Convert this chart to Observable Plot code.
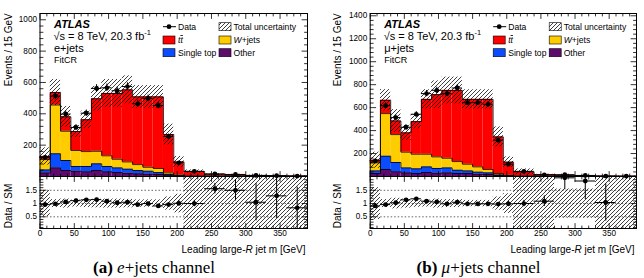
<!DOCTYPE html>
<html>
<head>
<meta charset="utf-8">
<script src="https://cdn.jsdelivr.net/npm/d3@7"></script>
<script src="https://cdn.jsdelivr.net/npm/@observablehq/plot@0.6"></script>
<style>
html,body{margin:0;padding:0;background:#fff;}
#fig{position:relative;width:644px;height:278px;overflow:hidden;background:#fff;}
#fig > div{position:absolute;}
#fig svg{display:block;}
</style>
</head>
<body>
<svg width="1" height="1" style="position:absolute;left:-10px;top:-10px">
  <defs>
    <pattern id="hatch" patternUnits="userSpaceOnUse" width="4" height="4">
      <path d="M-1,1 l2,-2 M0,4 l4,-4 M3,5 l2,-2" stroke="#000" stroke-width="0.75" fill="none"/>
    </pattern>
  </defs>
</svg>
<div id="fig"></div>
<script>
// ---------------- data ----------------
const binEdges = [0,15,30,45,60,75,90,105,120,135,150,165,180,195,210,240,270,300,330,360,390];
const processes = ["Other", "Single top", "W+jets", "ttbar"];
const processColors = ["#5e0b6e", "#0a4cff", "#ffcc00", "#ff0000"];

// e+jets (events / 15 GeV)
const eOther     = [23, 55, 38, 34, 30, 38, 30, 25, 21, 17, 15, 13, 8, 3, 1, 0.5, 0.3, 0.2, 0.2, 0.1];
const eSingleTop = [19, 90, 64, 30, 34, 43, 34, 30, 26, 21, 19, 12, 5, 2, 1, 0.5, 0.3, 0.2, 0.1, 0.1];
const eWjets     = [66, 311, 187, 102, 95, 80, 68, 55, 46, 38, 25, 26, 10, 4, 1.5, 1, 0.6, 0.4, 0.3, 0.2];
const eTtbar     = [20, 80, 92, 121, 203, 335, 398, 420, 460, 432, 449, 457, 245, 84, 28.5, 9, 7.5, 5.2, 3.4, 2.6];
const eData      = [122, 513, 398, 313, 404, 562, 566, 547, 574, 464, 498, 453, 255, 87, 33, 17, 13, 7, 5, 2.5];
const eDataErr   = [11, 23, 20, 18, 20, 24, 24, 23, 24, 22, 22, 21, 16, 9, 4, 3, 2.5, 2, 1.5, 1];
const eUnc       = [55, 83, 66, 38, 55, 79, 89, 89, 89, 72, 72, 72, 66, 35, 10, 5, 4, 3, 2, 2];
const eRatio     = [0.96, 0.99, 1.06, 1.11, 1.14, 1.15, 1.09, 1.03, 1.05, 0.96, 1.0, 0.91, 0.96, 1.01, 1.0, 1.56, 1.5, 1.05, 1.29, 0.84];
const eRatioErr  = [0.09, 0.05, 0.05, 0.06, 0.05, 0.05, 0.04, 0.04, 0.04, 0.05, 0.05, 0.05, 0.06, 0.1, 0.12, 0.2, 0.4, 0.7, 0.85, 0.78];
const eBand      = [0.5, 0.15, 0.17, 0.13, 0.15, 0.16, 0.17, 0.17, 0.16, 0.14, 0.14, 0.14, 0.25, 0.35, 1.2, 1.2, 1.2, 1.2, 1.2, 1.2];

// mu+jets (events / 15 GeV)
const mOther     = [26, 61, 41, 32, 26, 35, 29, 32, 26, 26, 20, 17, 9, 4, 1.5, 0.6, 0.4, 0.3, 0.2, 0.1];
const mSingleTop = [23, 116, 81, 43, 41, 49, 41, 43, 29, 23, 18, 15, 5, 2, 1, 0.6, 0.4, 0.2, 0.1, 0.1];
const mWjets     = [70, 371, 243, 137, 127, 110, 101, 84, 75, 58, 46, 29, 12, 4, 1.5, 0.8, 0.6, 0.5, 0.3, 0.2];
const mTtbar     = [23, 116, 119, 168, 284, 478, 542, 591, 620, 565, 588, 611, 319, 115, 37, 12, 6.6, 4, 2.9, 2.1];
const mData      = [136, 617, 513, 429, 542, 722, 751, 722, 771, 643, 643, 629, 316, 107, 45, 15, 16, 9, 3.5, 3];
const mDataErr   = [12, 25, 23, 21, 23, 27, 27, 27, 28, 25, 25, 25, 18, 10, 5, 3, 3, 2, 1.5, 1.2];
const mUnc       = [70, 93, 99, 67, 64, 84, 120, 116, 116, 84, 84, 84, 87, 46, 25, 5, 4, 3, 2, 2];
const mRatio     = [0.91, 0.96, 1.03, 1.14, 1.18, 1.09, 1.06, 0.99, 1.05, 0.99, 0.99, 0.99, 0.98, 0.99, 1.0, 1.09, 1.97, 1.85, 1.04, null];
const mRatioErr  = [0.08, 0.04, 0.04, 0.05, 0.05, 0.04, 0.04, 0.04, 0.04, 0.04, 0.04, 0.04, 0.06, 0.1, 0.12, 0.2, 0.45, 0.7, 0.7, null];
const mBand      = [0.6, 0.15, 0.2, 0.17, 0.14, 0.13, 0.17, 0.15, 0.15, 0.12, 0.12, 0.12, 0.25, 0.37, 1.2, 1.2, 0.55, 0.55, 1.2, 1.2];

// axis ticks
const xMajorTicks = [0, 50, 100, 150, 200, 250, 300, 350];
const eYLabels = [200, 400, 600, 800, 1000];
const mYLabels = [200, 400, 600, 800, 1000, 1200, 1400];
const ratioYLabels = [0.5, 1, 1.5];

// ---------------- drawing ----------------
const FONT = "'Liberation Sans', Arial, Helvetica, sans-serif";
const fig = document.getElementById("fig");
const tickShape = {draw(ctx, l) { ctx.moveTo(0, 0); ctx.lineTo(0, -l); }};

function tickMarks(axis, vals, len) {
  const common = {length: len, anchor: "start", shape: tickShape, stroke: "#000", strokeWidth: 0.8};
  if (axis === "y") return [
    Plot.vector(vals, {...common, y: d => d, frameAnchor: "left", rotate: 90}),
    Plot.vector(vals, {...common, y: d => d, frameAnchor: "right", rotate: -90})
  ];
  return [
    Plot.vector(vals, {...common, x: d => d, frameAnchor: "bottom", rotate: 0}),
    Plot.vector(vals, {...common, x: d => d, frameAnchor: "top", rotate: 180})
  ];
}

function place(el, left, top, w) {
  const d = document.createElement("div");
  d.style.left = left + "px"; d.style.top = top + "px"; d.style.width = w + "px";
  d.appendChild(el); fig.appendChild(d);
}

const panels = [
  {ox: 0, fl: 39.5, fr: 307, ymax: 1040, yLabels: eYLabels,
   comps: [eOther, eSingleTop, eWjets, eTtbar], data: eData, dataErr: eDataErr, unc: eUnc,
   ratio: eRatio, ratioErr: eRatioErr, band: eBand,
   channel: "e+jets", caption: ["(a)", "e", "+jets channel"], axisTitleX: 8.7, capX: 154},
  {ox: 322, fl: 369.7, fr: 636, ymax: 1420, yLabels: mYLabels,
   comps: [mOther, mSingleTop, mWjets, mTtbar], data: mData, dataErr: mDataErr, unc: mUnc,
   ratio: mRatio, ratioErr: mRatioErr, band: mBand,
   channel: "\u03bc+jets", caption: ["(b)", "\u03bc", "+jets channel"], axisTitleX: 337, capX: 478.5}
];

const lo = binEdges.slice(0, -1), hi = binEdges.slice(1);
const xMinor = d3.range(0, 391, 10).filter(v => v % 50 !== 0);

let overlay = "";

for (const p of panels) {
  const rects = [], steps = [];
  const cum = lo.map(() => 0);
  p.comps.forEach((vals, c) => {
    vals.forEach((v, i) => {
      rects.push({lo: lo[i], hi: hi[i], y1: cum[i], y2: cum[i] + v, proc: processes[c]});
      cum[i] += v;
    });
    lo.forEach((l, i) => steps.push({x: l, y: cum[i], proc: processes[c]}));
    steps.push({x: hi[hi.length - 1], y: cum[cum.length - 1], proc: processes[c]});
  });
  const uncRows = lo.map((l, i) => ({lo: l, hi: hi[i], y1: Math.max(0, cum[i] - p.unc[i]), y2: cum[i] + p.unc[i]}));
  const dataRows = lo.map((l, i) => ({lo: l, hi: hi[i], c: (l + hi[i]) / 2, v: p.data[i], e: p.dataErr[i]}));
  const ratioRows = lo.map((l, i) => ({lo: l, hi: hi[i], c: (l + hi[i]) / 2, v: p.ratio[i], e: p.ratioErr[i]})).filter(d => d.v != null);
  const bandRows = lo.map((l, i) => ({lo: l, hi: hi[i], y1: 1 - p.band[i], y2: 1 + p.band[i]}));

  const yMinor = d3.range(40, p.ymax, 40).filter(v => v % 200 !== 0);
  const yMajor = d3.range(200, p.ymax, 200);

  const main = Plot.plot({
    width: 322, height: 177,
    marginLeft: p.fl - p.ox, marginRight: p.ox + 322 - p.fr, marginTop: 13, marginBottom: 1,
    x: {domain: [0, 390], axis: null},
    y: {domain: [0, p.ymax], axis: null},
    color: {domain: processes, range: processColors},
    style: {fontFamily: FONT, fontSize: "8.2px", background: "transparent", overflow: "visible"},
    marks: [
      Plot.rect(rects, {x1: "lo", x2: "hi", y1: "y1", y2: "y2", fill: "proc"}),
      Plot.line(steps, {x: "x", y: "y", z: "proc", curve: "step-after", stroke: "#000", strokeWidth: 0.8}),
      Plot.rect(uncRows, {x1: "lo", x2: "hi", y1: "y1", y2: "y2", fill: "url(#hatch)", clip: true}),
      Plot.ruleY(dataRows, {y: "v", x1: "lo", x2: "hi", stroke: "#000", strokeWidth: 1}),
      Plot.ruleX(dataRows, {x: "c", y1: d => d.v - d.e, y2: d => d.v + d.e, stroke: "#000", strokeWidth: 1}),
      Plot.dot(dataRows, {x: "c", y: "v", r: 2.4, fill: "#000"}),
      ...tickMarks("y", yMajor, 5.5),
      ...tickMarks("y", yMinor, 3),
      ...tickMarks("x", xMajorTicks, 5),
      ...tickMarks("x", xMinor, 2.5),
      Plot.text(p.yLabels, {y: d => d, text: d => String(d), frameAnchor: "left", textAnchor: "end", dx: -3, fontSize: 8.2}),
      Plot.frame({stroke: "#000", strokeWidth: 1})
    ]
  });
  place(main, p.ox, 0, 322);

  const ratio = Plot.plot({
    width: 322, height: 78,
    marginLeft: p.fl - p.ox, marginRight: p.ox + 322 - p.fr, marginTop: 1, marginBottom: 25,
    x: {domain: [0, 390], axis: null},
    y: {domain: [0.06, 2.02], axis: null},
    style: {fontFamily: FONT, fontSize: "8.2px", background: "transparent", overflow: "visible"},
    marks: [
      Plot.ruleY(ratioYLabels, {y: d => d, stroke: "#222", strokeWidth: 0.7, strokeDasharray: "1.5,2"}),
      Plot.rect(bandRows, {x1: "lo", x2: "hi", y1: "y1", y2: "y2", fill: "url(#hatch)", clip: true}),
      Plot.ruleY(ratioRows, {y: "v", x1: "lo", x2: "hi", stroke: "#000", strokeWidth: 1, clip: true}),
      Plot.ruleX(ratioRows, {x: "c", y1: d => d.v - d.e, y2: d => d.v + d.e, stroke: "#000", strokeWidth: 1, clip: true}),
      Plot.dot(ratioRows, {x: "c", y: "v", r: 2.4, fill: "#000", clip: true}),
      ...tickMarks("y", ratioYLabels, 5.5),
      ...tickMarks("y", d3.range(0.1, 2.0, 0.1).map(v => +v.toFixed(1)).filter(v => !ratioYLabels.includes(v)), 3),
      ...tickMarks("x", xMajorTicks, 5),
      ...tickMarks("x", xMinor, 2.5),
      Plot.text(ratioYLabels, {y: d => d, text: d => String(d), frameAnchor: "left", textAnchor: "end", dx: -3, fontSize: 8.2}),
      Plot.text(xMajorTicks, {x: d => d, text: d => String(d), frameAnchor: "bottom", lineAnchor: "top", dy: 2, fontSize: 8.2}),
      Plot.frame({stroke: "#000", strokeWidth: 1})
    ]
  });
  place(ratio, p.ox, 175, 322);

  const fl = p.fl;
  const c1 = fl + 123.5, c2 = fl + 179.5, t1 = fl + 138.5, t2 = fl + 194;
  const r1 = 26.7, r2 = 40, r3 = 52.7;
  const box = (x, yc, fill) => `<rect x="${x}" y="${yc - 4}" width="12" height="8" fill="${fill}" stroke="#000" stroke-width="0.6"/>`;
  const lt = (x, yc, s) => `<text x="${x}" y="${yc + 3}" font-size="8.6">${s}</text>`;
  overlay += `
    <text x="${fl + 14.5}" y="27.5" font-size="11" font-weight="bold" font-style="italic">ATLAS</text>
    <text x="${fl + 14}" y="39.5" font-size="11">\u221As = 8 TeV, 20.3 fb<tspan dy="-4.5" font-size="7.5">-1</tspan></text>
    <text x="${fl + 14.5}" y="51.5" font-size="11">${p.channel}</text>
    <text x="${fl + 14.5}" y="63.3" font-size="9">FitCR</text>
    <line x1="${c1}" x2="${c1 + 13}" y1="${r1}" y2="${r1}" stroke="#000" stroke-width="1"/>
    <circle cx="${c1 + 6}" cy="${r1}" r="2.4" fill="#000"/>
    ${lt(t1, r1, "Data")}
    ${box(c2, r1, "url(#hatch)")}
    ${lt(t2, r1, "Total uncertainty")}
    ${box(c1, r2, processColors[3])}
    <text x="${t1}" y="${r2 + 3}" font-size="8.6" font-style="italic">t<tspan text-decoration="overline">t</tspan></text>
    ${box(c2, r2, processColors[2])}
    <text x="${t2}" y="${r2 + 3}" font-size="8.6"><tspan font-style="italic">W</tspan>+jets</text>
    ${box(c1, r3, processColors[1])}
    ${lt(t1, r3, "Single top")}
    ${box(c2, r3, processColors[0])}
    ${lt(t2, r3, "Other")}
    <text transform="translate(${p.axisTitleX},13.3) rotate(-90)" text-anchor="end" dy="0.35em" font-size="10">Events / 15 GeV</text>
    <text transform="translate(${p.axisTitleX},206) rotate(-90)" text-anchor="middle" dy="0.35em" font-size="10">Data / SM</text>
    <text x="${p.fr - 1.5}" y="252.5" text-anchor="end" font-size="10">Leading large-<tspan font-style="italic">R</tspan> jet m [GeV]</text>
    <text x="${p.capX}" y="273" text-anchor="middle" font-size="17" font-family="'Liberation Serif', 'Times New Roman', serif"><tspan font-weight="bold">${p.caption[0]}</tspan> <tspan font-style="italic">${p.caption[1]}</tspan>${p.caption[2]}</text>
  `;
}

const ov = document.createElement("div");
ov.style.left = "0px"; ov.style.top = "0px"; ov.style.width = "644px";
ov.innerHTML = `<svg width="644" height="278" font-family="${FONT.replace(/"/g, "'")}" fill="#000" style="pointer-events:none">${overlay}</svg>`;
fig.appendChild(ov);
</script>
</body>
</html>
